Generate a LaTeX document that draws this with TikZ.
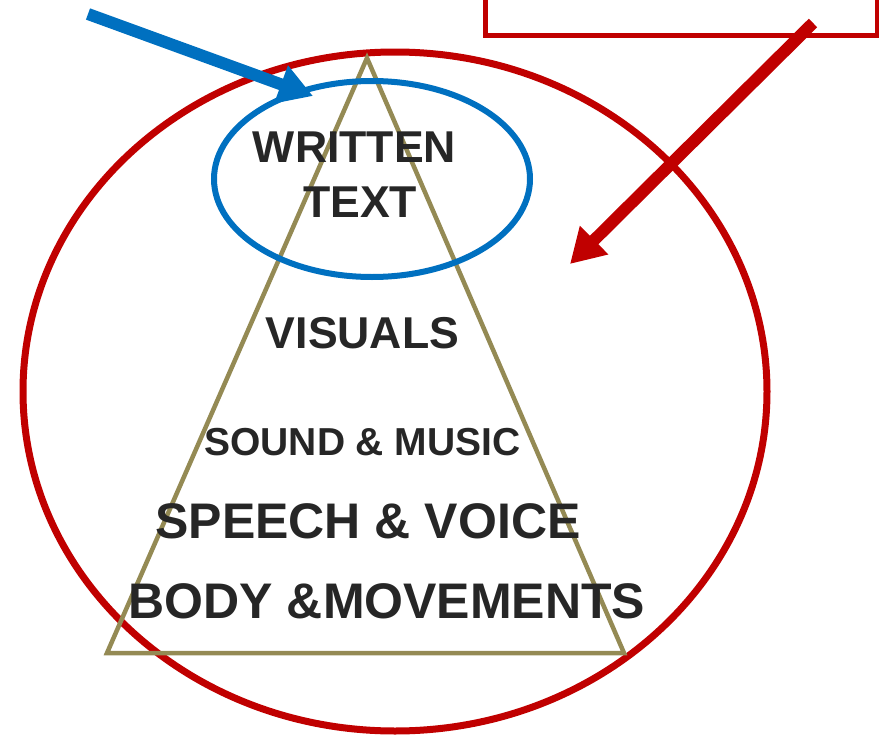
\documentclass[tikz,border=0pt]{standalone}
\usepackage{fontspec}
\setmainfont{Liberation Sans}
\usepackage{tikz}
\usetikzlibrary{shapes.geometric,arrows.meta}

\definecolor{framered}{RGB}{192,0,0}
\definecolor{focusblue}{RGB}{0,112,192}
\definecolor{pyramidtan}{RGB}{148,138,84}
\definecolor{labelgray}{RGB}{38,38,38}

\begin{document}
\begin{tikzpicture}[x=1pt, y=-1pt,
	every node/.style={inner sep=0pt},
	layer/.style={anchor=base, text=labelgray, font=\bfseries},
	pointer/.style={line width=12pt, -{Triangle[width=38pt,length=34pt]}}]
	\clip (0,0) rectangle (879,736);
	% outer frame and box
	\draw[framered, line width=5pt] (485,-20) rectangle (877,35.5);
	\node[draw=framered, line width=7pt, ellipse, minimum width=744pt, minimum height=679pt] (frame) at (395,391.5) {};
	% pyramid
	\coordinate (apex) at (367,58);
	\coordinate (baseL) at (107,653);
	\coordinate (baseR) at (624,653);
	\draw[pyramidtan, line width=4.5pt] (apex) -- (baseR) -- (baseL) -- cycle;
	\node[draw=focusblue, line width=6pt, ellipse, minimum width=316pt, minimum height=196pt] (focus) at (372,179) {};
	% layer labels
	\foreach \n/\x/\y/\sz/\t in {written/354.5/162/44.6/WRITTEN, text/360/217/44.6/TEXT, visuals/362.5/348/44.6/VISUALS, sound/362.5/455/39/SOUND \& MUSIC, speech/368/538/50/SPEECH \& VOICE, body/387/618/50/BODY \&MOVEMENTS} {
		\node[layer, font=\fontsize{\sz}{\sz}\selectfont\bfseries] (\n) at (\x,\y) {\t};
	}
	% arrows
	\coordinate (blueTail) at (88,14);
	\coordinate (blueTip) at (313,96);
	\coordinate (redTail) at (813,23);
	\coordinate (redTip) at (570,264);
	\draw[pointer, focusblue] (blueTail) -- (blueTip);
	\draw[pointer, framered] (redTail) -- (redTip);
\end{tikzpicture}
\end{document}
